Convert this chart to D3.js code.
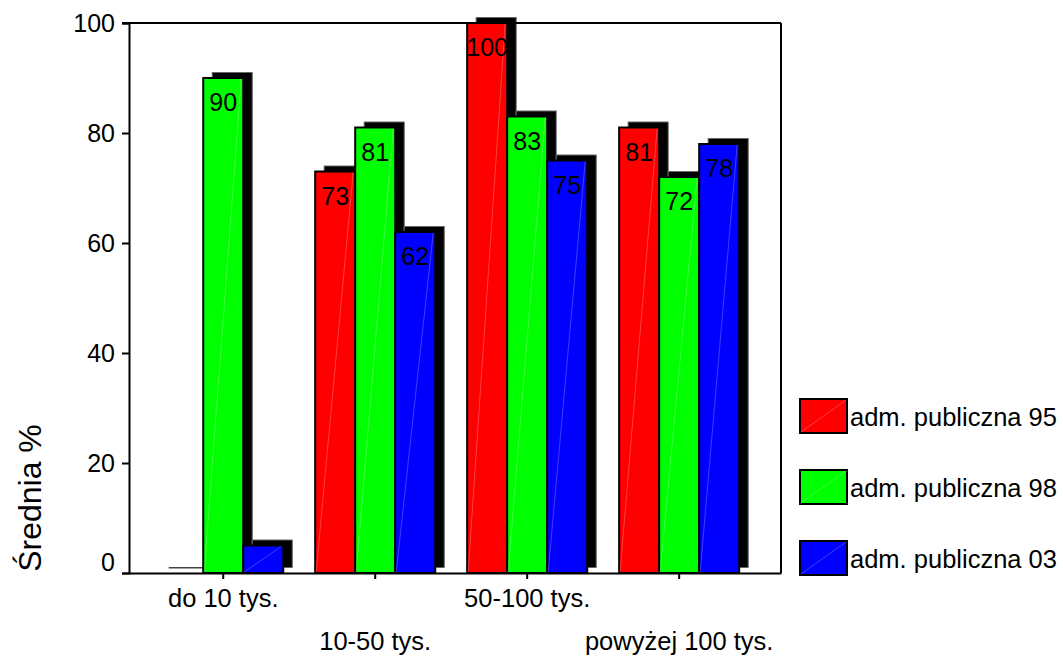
<!DOCTYPE html>
<html>
<head>
<meta charset="utf-8">
<script src="https://cdn.jsdelivr.net/npm/d3@7"></script>
<style>
  body { margin: 0; background: #fff; }
  text { font-family: "Liberation Sans", Arial, sans-serif; fill: #000; }
</style>
</head>
<body>
<div class="canva"></div>
<script>
// chart data
const categories = ['do 10 tys.', '10-50 tys.', '50-100 tys.', 'powyżej 100 tys.'];
const seriesNames = ['adm. publiczna 95', 'adm. publiczna 98', 'adm. publiczna 03'];
const values95 = [0, 73, 100, 81];
const values98 = [90, 81, 83, 72];
const values03 = [5, 62, 75, 78];
const yTicks = [0, 20, 40, 60, 80, 100];
const colors = ['#ff0000', '#00ff00', '#0000ff'];

const seriesValues = [values95, values98, values03];

// plot box
const plotLeft = 129, plotTop = 23, plotRight = 781, plotBottom = 573;

const svg = d3.select('.canva').append('svg')
  .attr('width', 1063)
  .attr('height', 657);

const x = d3.scaleBand()
  .domain(categories)
  .range([plotLeft, plotRight])
  .paddingInner(0.21)
  .paddingOuter(0.25)
  .align(0.45);

const xs = d3.scaleBand()
  .domain(seriesNames)
  .range([0, x.bandwidth()]);

const y = d3.scaleLinear()
  .domain([0, 100])
  .range([plotBottom, plotTop]);

// flatten bars
const bars = [];
categories.forEach((c, i) => {
  seriesNames.forEach((s, j) => {
    bars.push({cat: c, ser: s, v: seriesValues[j][i], color: colors[j]});
  });
});

const dx = 9, dy = -5.5;

// shadows first (a zero bar still leaves a thin line)
svg.append('g').selectAll('rect')
  .data(bars)
  .enter().append('rect')
  .attr('x', d => x(d.cat) + xs(d.ser) + dx - (d.v === 0 ? 3 : 0))
  .attr('y', d => y(d.v) + dy)
  .attr('width', xs.bandwidth())
  .attr('height', d => Math.max(0.5, plotBottom - y(d.v)))
  .attr('fill', '#000')
  .attr('stroke', d => d.v === 0 ? '#444' : '#666')
  .attr('stroke-width', 1);

// bars
const bg = svg.append('g').selectAll('g')
  .data(bars)
  .enter().append('g');

bg.append('rect')
  .attr('x', d => x(d.cat) + xs(d.ser))
  .attr('y', d => y(d.v))
  .attr('width', xs.bandwidth())
  .attr('height', d => plotBottom - y(d.v))
  .attr('fill', d => d.color)
  .attr('stroke', '#000')
  .attr('stroke-width', 2);

// faint diagonal inside each bar
bg.filter(d => d.v > 0).append('line')
  .attr('x1', d => x(d.cat) + xs(d.ser) + 1)
  .attr('y1', plotBottom - 1)
  .attr('x2', d => x(d.cat) + xs(d.ser) + xs.bandwidth() - 2)
  .attr('y2', d => y(d.v) + 1)
  .attr('stroke', '#fff')
  .attr('stroke-opacity', 0.35)
  .attr('stroke-width', 0.7);

bg.filter(d => plotBottom - y(d.v) > 40).append('text')
  .attr('x', d => x(d.cat) + xs(d.ser) + xs.bandwidth() / 2)
  .attr('y', d => y(d.v) + 33)
  .attr('text-anchor', 'middle')
  .style('font-size', '25px')
  .text(d => d.v);

// frame top and right
svg.append('line')
  .attr('x1', plotLeft - 7).attr('x2', plotRight)
  .attr('y1', plotTop).attr('y2', plotTop)
  .attr('stroke', '#000').attr('stroke-width', 2);
svg.append('line')
  .attr('x1', plotRight).attr('x2', plotRight)
  .attr('y1', plotTop).attr('y2', plotBottom)
  .attr('stroke', '#000').attr('stroke-width', 2);

// y axis
const yAxis = svg.append('g')
  .attr('transform', `translate(${plotLeft},0)`)
  .call(d3.axisLeft(y).tickValues(yTicks).tickSize(7).tickPadding(7));
yAxis.select('.domain').attr('stroke-width', 2);
yAxis.selectAll('.tick line').attr('stroke-width', 2);
yAxis.selectAll('.tick text')
  .style('font-size', '25px')
  .style('font-family', '"Liberation Sans", Arial, sans-serif')
  .attr('dy', d => d === 0 ? '-0.12em' : '0.32em');

// x axis
const xAxis = svg.append('g')
  .attr('transform', `translate(0,${plotBottom})`)
  .call(d3.axisBottom(x).tickSize(6).tickPadding(0).tickSizeOuter(0));
xAxis.select('.domain').attr('stroke-width', 2);
xAxis.selectAll('.tick line').attr('stroke-width', 2);
xAxis.selectAll('.tick text')
  .style('font-size', '25.5px')
  .style('font-family', '"Liberation Sans", Arial, sans-serif')
  .attr('dy', 0)
  .attr('y', (d, i) => i % 2 === 0 ? 34 : 77);

// y title
svg.append('text')
  .attr('transform', 'translate(41,498) rotate(-90)')
  .attr('text-anchor', 'middle')
  .style('font-size', '32px')
  .text('Średnia %');

// legend
const legend = svg.append('g').selectAll('g')
  .data(seriesNames)
  .enter().append('g')
  .attr('transform', (d, i) => `translate(800,${399 + i * 71})`);

legend.append('rect')
  .attr('width', 47)
  .attr('height', 34)
  .attr('fill', (d, i) => colors[i])
  .attr('stroke', '#000')
  .attr('stroke-width', 2);

legend.append('line')
  .attr('x1', 1).attr('y1', 33).attr('x2', 46).attr('y2', 1)
  .attr('stroke', '#fff').attr('stroke-opacity', 0.35).attr('stroke-width', 0.7);

legend.append('text')
  .attr('x', 50)
  .attr('y', 27)
  .style('font-size', '25.5px')
  .text(d => d);
</script>
</body>
</html>
